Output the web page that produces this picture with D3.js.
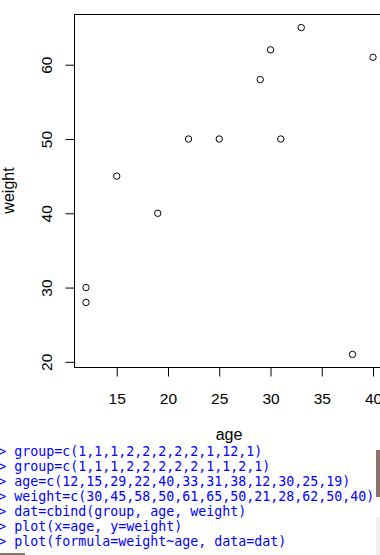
<!DOCTYPE html>
<html>
<head>
<meta charset="utf-8">
<script src="https://cdn.jsdelivr.net/npm/d3@7"></script>
<style>
html,body{margin:0;padding:0;background:#fff;overflow:hidden;}
svg{display:block;}
</style>
</head>
<body>
<svg id="chart" width="380" height="555"></svg>
<script>
// ---- data ----
const age = [12, 15, 29, 22, 40, 33, 31, 38, 12, 30, 25, 19];
const weight = [30, 45, 58, 50, 61, 65, 50, 21, 28, 62, 50, 40];
const xTicks = [15, 20, 25, 30, 35, 40];
const yTicks = [20, 30, 40, 50, 60];
const xTitle = "age";
const yTitle = "weight";
const consoleLines = [
  "group=c(1,1,1,2,2,2,2,2,1,12,1)",
  "group=c(1,1,1,2,2,2,2,2,1,1,2,1)",
  "age=c(12,15,29,22,40,33,31,38,12,30,25,19)",
  "weight=c(30,45,58,50,61,65,50,21,28,62,50,40)",
  "dat=cbind(group, age, weight)",
  "plot(x=age, y=weight)",
  "plot(formula=weight~age, data=dat)"
];

// ---- layout ----
const svg = d3.select("#chart");
const L = 74, R = 384, T = 14, B = 367;

// R-style 4% range extension
const xe = d3.extent(age), ye = d3.extent(weight);
const xp = (xe[1] - xe[0]) * 0.04, yp = (ye[1] - ye[0]) * 0.04;
const x = d3.scaleLinear().domain([xe[0] - xp, xe[1] + xp]).range([L, R]);
const y = d3.scaleLinear().domain([ye[0] - yp, ye[1] + yp]).range([B, T]);

const font = "'Liberation Sans', Arial, sans-serif";

// box
svg.append("rect")
  .attr("x", L + 0.5).attr("y", T + 0.5)
  .attr("width", R - L).attr("height", B - T)
  .attr("fill", "none").attr("stroke", "#000").attr("stroke-width", 1);

// x axis
const xAxis = d3.axisBottom(x).tickValues(xTicks).tickSize(9).tickPadding(16).tickFormat(d3.format("d"));
const gx = svg.append("g").attr("transform", `translate(0.5,${B + 0.5})`).call(xAxis);
gx.select(".domain").remove();
gx.selectAll("line").attr("stroke", "#000");
gx.selectAll("text").attr("font-family", font).attr("font-size", "15.5px").attr("fill", "#000");

// y axis
const yAxis = d3.axisLeft(y).tickValues(yTicks).tickSize(9).tickFormat(d3.format("d"));
const gy = svg.append("g").attr("transform", `translate(${L + 0.5},0.5)`).call(yAxis);
gy.select(".domain").remove();
gy.selectAll("line").attr("stroke", "#000");
gy.selectAll(".tick text")
  .attr("font-family", font).attr("font-size", "15.5px").attr("fill", "#000")
  .attr("dy", null).attr("x", 0).attr("y", 0)
  .attr("text-anchor", "middle")
  .attr("transform", `translate(${51.5 - L - 0.5},0) rotate(-90)`);

// axis titles
svg.append("text").attr("x", (L + R) / 2).attr("y", 440)
  .attr("text-anchor", "middle").attr("font-family", font).attr("font-size", "16px")
  .text(xTitle);
svg.append("text").attr("transform", `translate(13.5,${(T + B) / 2}) rotate(-90)`)
  .attr("text-anchor", "middle").attr("font-family", font).attr("font-size", "16px")
  .text(yTitle);

// points
svg.append("g").selectAll("circle").data(age.map((a, i) => [a, weight[i]]))
  .join("circle")
  .attr("cx", d => x(d[0]) + 0.5).attr("cy", d => y(d[1]) + 0.5)
  .attr("r", 3.2).attr("fill", "none").attr("stroke", "#000").attr("stroke-width", 1);

// console text
const cons = svg.append("g");
consoleLines.forEach((s, i) => {
  cons.append("text")
    .attr("x", -1.7).attr("y", 456 + i * 15)
    .attr("font-family", "'DejaVu Sans Mono', 'Liberation Mono', monospace")
    .attr("font-size", "13.29px").attr("fill", "#0000ff")
    .style("white-space", "pre")
    .text("> " + s);
});

// window decorations
svg.append("rect").attr("x", 376).attr("y", 450).attr("width", 4).attr("height", 47).attr("fill", "#8c736e");
svg.append("rect").attr("x", 376).attr("y", 517).attr("width", 4).attr("height", 38).attr("fill", "#f0f0f0");
svg.append("rect").attr("x", 0).attr("y", 553).attr("width", 25).attr("height", 2).attr("fill", "#8c736e");
</script>
</body>
</html>
